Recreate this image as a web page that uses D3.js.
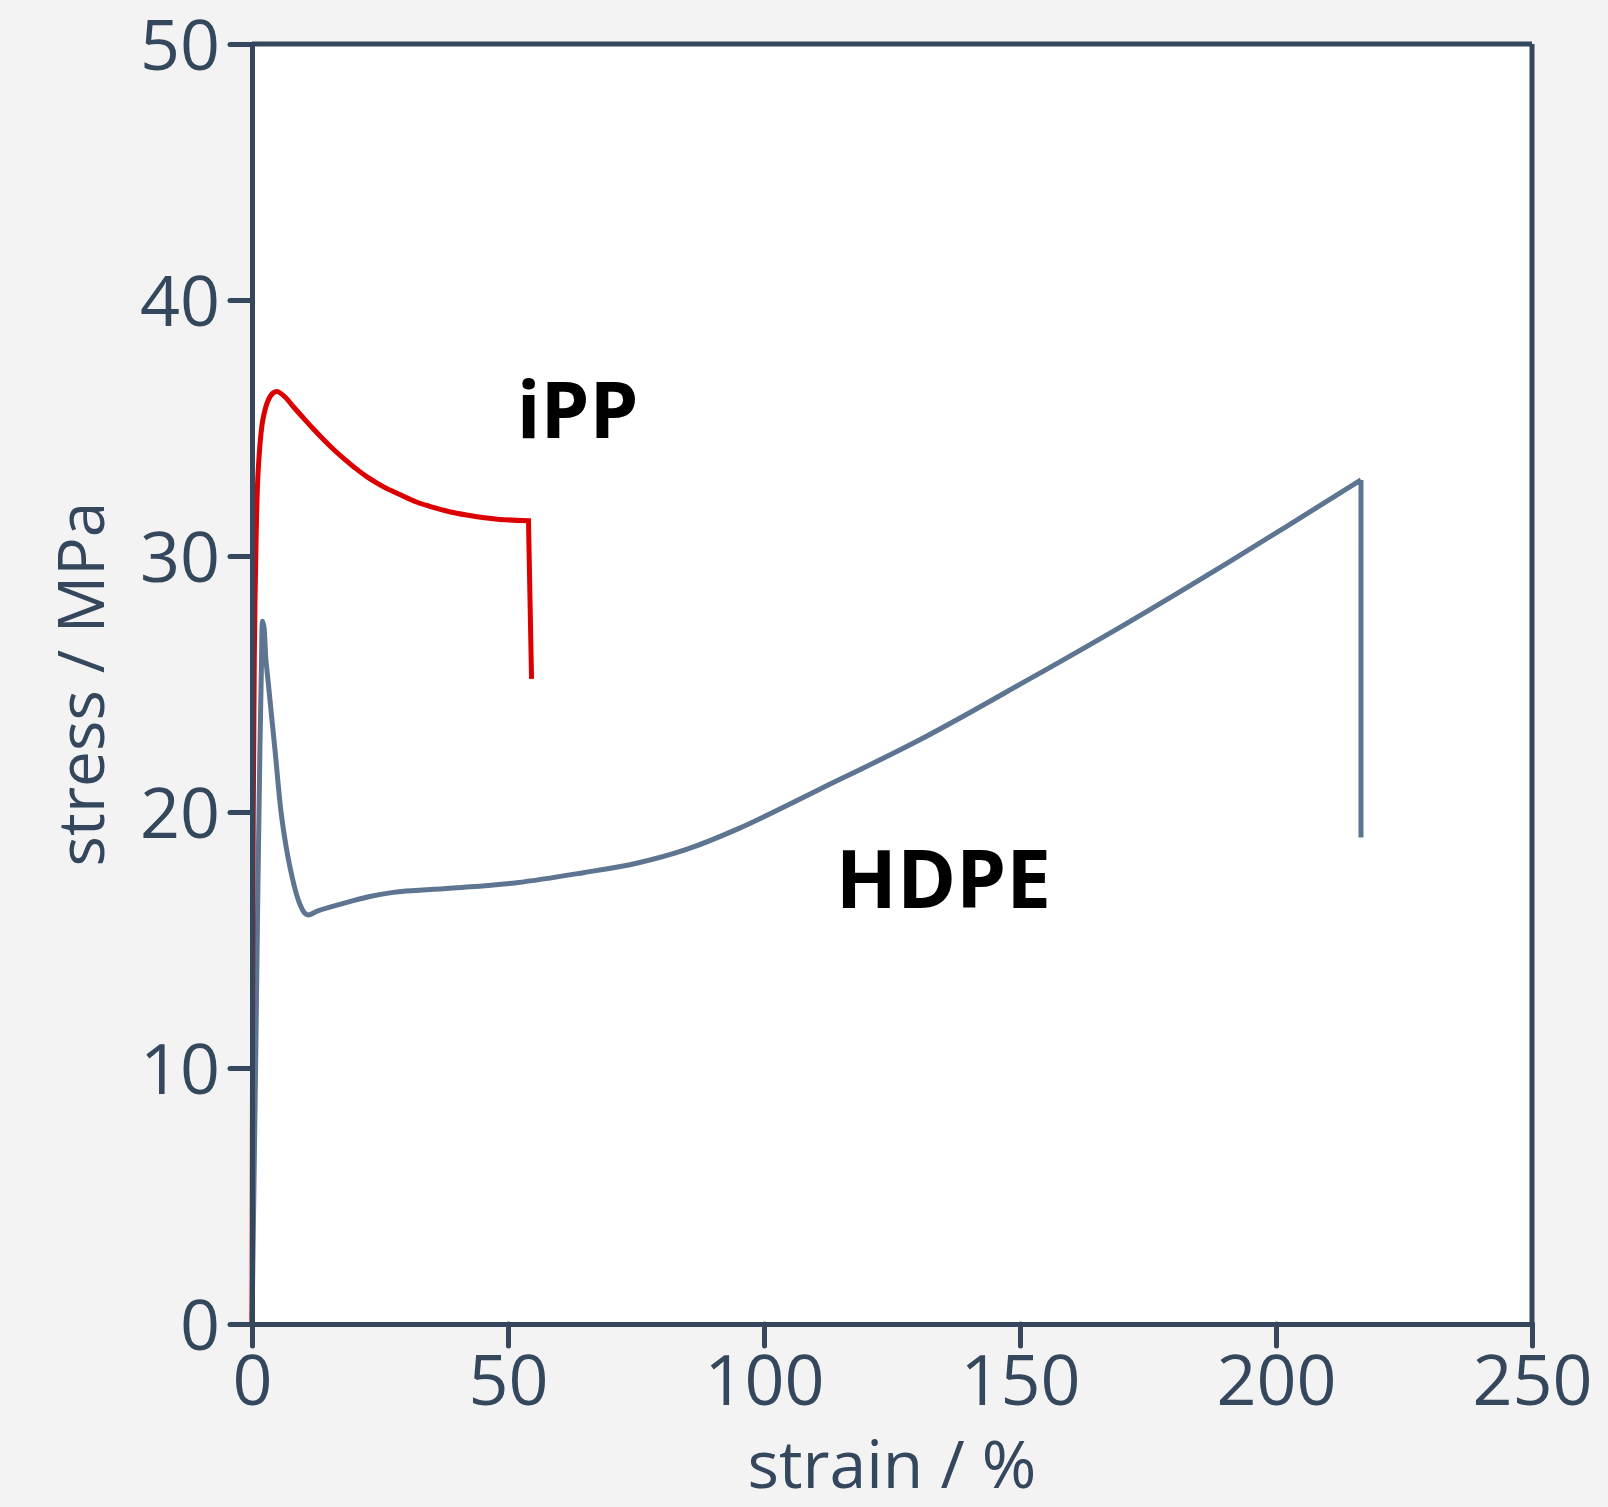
<!DOCTYPE html>
<html>
<head>
<meta charset="utf-8">
<script src="https://cdnjs.cloudflare.com/ajax/libs/d3/7.8.5/d3.min.js"></script>
<style>
  html, body { margin: 0; padding: 0; background: #f3f3f3; }
  svg { display: block; }
  .tick text, .title { font-family: "Open Sans", sans-serif; fill: #34475c; }
  .lbl { font-family: "Open Sans", sans-serif; font-weight: bold; fill: #000; }
</style>
</head>
<body>
<div id="chart"></div>
<script>
// data: [strain %, stress MPa]
var ippCurve = [[0,0],[0.1,10],[0.25,20],[0.45,26],[0.7,29.5],[1.2,33.3],[2.1,35.3],[3.2,36.1],
  [4.2,36.38],[5.0,36.42],[6.5,36.2],[8,35.85],[10,35.4],[12,34.96],[14,34.54],[16,34.15],
  [18,33.79],[20,33.46],[22.4,33.1],[25.7,32.7],[28.9,32.4],[32,32.12],[35.4,31.9],[38.6,31.73],
  [41.9,31.6],[45,31.5],[48.4,31.43],[54.0,31.38]];
var ippBreak = [54.6, 25.2];

var hdpeCurve = [[0,0],[0.7,10],[1.15,17],[1.55,22.5],[1.85,25.8],[2.08,27.45],[2.35,27.2],[2.7,26.0],
  [3.2,25.0],[4.5,22.4],[5.8,19.8],[7.4,17.86],[9.05,16.56],[10.3,16.05],[11.0,15.98],[13,16.15],
  [19.1,16.5],[23,16.7],[27.6,16.86],[38.7,17.02],[51.7,17.24],[64.7,17.63],[75.1,18.0],[85,18.55],
  [95,19.35],[111,20.9],[131,22.88],[151,25.1],[171.1,27.4],[191.1,29.8],[216.6,32.97]];
var hdpeBreak = [216.6, 19.0];

var xTicks = [0, 50, 100, 150, 200, 250];
var yTicks = [0, 10, 20, 30, 40, 50];
var labels = [["iPP", 51.7, 34.6, 78], ["HDPE", 114.0, 16.25, 80]];

var W = 1608, H = 1507;
var margin = {left: 252, top: 44, right: 76, bottom: 183};
var w = W - margin.left - margin.right, h = H - margin.top - margin.bottom;
var axisCol = "#34475c";

var svg = d3.select("#chart").append("svg").attr("width", W).attr("height", H);
var g = svg.append("g").attr("transform", "translate(" + margin.left + "," + margin.top + ")");

var x = d3.scaleLinear().domain([0, 250]).range([0, w]);
var y = d3.scaleLinear().domain([0, 50]).range([h, 0]);

g.append("rect").attr("width", w).attr("height", h).attr("fill", "#fff");

//curves
var line = d3.line().x(function(d){ return x(d[0]); }).y(function(d){ return y(d[1]); })
  .curve(d3.curveCatmullRom.alpha(0.5));
function curvePath(pts, brk){
  return line(pts) + "L" + x(brk[0]) + "," + y(brk[1]);
}
g.append("path").attr("d", curvePath(hdpeCurve, hdpeBreak))
  .attr("fill", "none").attr("stroke", "#5d7590").attr("stroke-width", 5);
g.append("path").attr("d", curvePath(ippCurve, ippBreak))
  .attr("fill", "none").attr("stroke", "#dd0000").attr("stroke-width", 5);

//frame
g.append("line").attr("x1", 0).attr("x2", w).attr("y1", 0).attr("y2", 0);
g.append("line").attr("x1", w).attr("x2", w).attr("y1", 0).attr("y2", h);
g.selectAll("line").attr("stroke", axisCol).attr("stroke-width", 5);

//axes
var xAxis = g.append("g").attr("transform", "translate(0," + h + ")")
  .call(d3.axisBottom(x).tickValues(xTicks).tickSize(22).tickPadding(10).tickSizeOuter(0));
var yAxis = g.append("g")
  .call(d3.axisLeft(y).tickValues(yTicks).tickSize(22).tickPadding(10).tickSizeOuter(0));
[xAxis, yAxis].forEach(function(a){
  a.select(".domain").attr("stroke", axisCol).attr("stroke-width", 5).attr("stroke-linecap", "round");
  a.selectAll(".tick line").attr("stroke", axisCol).attr("stroke-width", 5).attr("stroke-linecap", "round");
  a.selectAll(".tick text").attr("font-size", 70).attr("fill", axisCol);
});
yAxis.selectAll(".tick text").attr("dy", "0.36em");
xAxis.selectAll(".tick text").attr("dy", "0.7em");

svg.append("text").attr("class", "title")
  .attr("x", margin.left + w / 2).attr("y", 1488)
  .attr("text-anchor", "middle").attr("font-size", 66)
  .text("strain / %");
svg.append("text").attr("class", "title")
  .attr("transform", "translate(104," + (margin.top + h / 2) + ") rotate(-90)")
  .attr("text-anchor", "middle").attr("font-size", 64)
  .text("stress / MPa");

g.selectAll(".lbl").data(labels).enter().append("text").attr("class", "lbl")
  .attr("x", function(d){ return x(d[1]); })
  .attr("y", function(d){ return y(d[2]); })
  .attr("font-size", function(d){ return d[3]; })
  .text(function(d){ return d[0]; });
</script>
</body>
</html>
